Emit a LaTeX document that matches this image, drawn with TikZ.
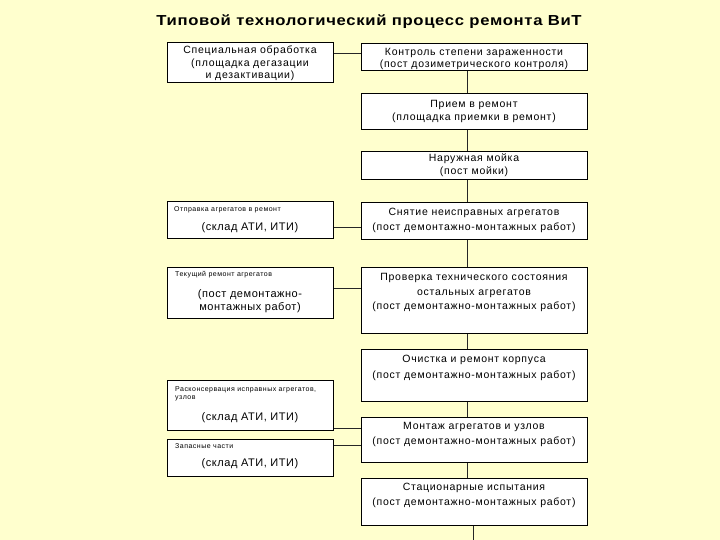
\documentclass[tikz,border=0pt]{standalone}
\usepackage{fontspec}
\usepackage{graphicx}
\setmainfont{Liberation Sans}
\newfontfamily\lsfont[LetterSpace=7]{Liberation Sans}
\newfontfamily\lsbfont[LetterSpace=5]{Liberation Sans}
\newfontfamily\ttlfont[LetterSpace=4]{Liberation Sans}
\definecolor{bgc}{RGB}{255,255,206}
\begin{document}
\begin{tikzpicture}[x=1pt,y=-1pt,
  box/.style={draw=black, fill=white, line width=0.9pt, inner sep=0pt, anchor=north west},
  txt/.style={font=\lsfont\fontsize{10.5}{#1}\selectfont, align=center, inner sep=0pt},
  txt/.default=12.5,
  big/.style={font=\lsbfont\fontsize{11}{13}\selectfont, align=center, inner sep=0pt},
  small/.style={font=\lsfont\fontsize{7}{8}\selectfont, align=left, inner sep=0pt, anchor=west},
  link/.style={draw=black!85, line width=0.9pt}]
\fill[bgc] (0,0) rectangle (720,540);
\useasboundingbox (0,0) rectangle (720,540);
\node[font=\ttlfont\fontsize{14.5}{17}\selectfont\bfseries, inner sep=0pt] (title) at (369,22) {\scalebox{1.15}[1]{Типовой технологический процесс ремонта ВиТ}};
% right column
\node[box, minimum width=226pt, minimum height=27pt] (R1) at (361,43) {};
\node[box, minimum width=226pt, minimum height=36pt] (R2) at (361,93) {};
\node[box, minimum width=226pt, minimum height=28pt] (R3) at (361,151) {};
\node[box, minimum width=226pt, minimum height=37pt] (R4) at (361,202) {};
\node[box, minimum width=226pt, minimum height=66pt] (R5) at (361,267) {};
\node[box, minimum width=226pt, minimum height=52pt] (R6) at (361,349) {};
\node[box, minimum width=226pt, minimum height=45pt] (R7) at (361,417) {};
\node[box, minimum width=226pt, minimum height=47pt] (R8) at (361,478) {};
% left column
\node[box, minimum width=166pt, minimum height=40pt] (L1) at (167,42) {};
\node[box, minimum width=166pt, minimum height=37pt] (L2) at (167,201) {};
\node[box, minimum width=166pt, minimum height=51pt] (L3) at (167,267) {};
\node[box, minimum width=166pt, minimum height=50pt] (L4) at (167,380) {};
\node[box, minimum width=166pt, minimum height=37pt] (L5) at (167,439) {};
% texts right
\node[txt=12] (tR1) at (474,59) {Контроль степени зараженности\\(пост дозиметрического контроля)};
\node[txt=13] (tR2) at (474,111.5) {Прием в ремонт\\(площадка приемки в ремонт)};
\node[txt=13] (tR3) at (474,165.5) {Наружная мойка\\(пост мойки)};
\node[txt=15] (tR4) at (474,220.5) {Снятие неисправных агрегатов\\(пост демонтажно-монтажных работ)};
\node[txt=14.5] (tR5) at (474,292.5) {Проверка технического состояния\\остальных агрегатов\\(пост демонтажно-монтажных работ)};
\node[txt=16] (tR6) at (474,368) {Очистка и ремонт корпуса\\(пост демонтажно-монтажных работ)};
\node[txt=15] (tR7) at (474,434.5) {Монтаж агрегатов и узлов\\(пост демонтажно-монтажных работ)};
\node[txt=15] (tR8) at (474,495.5) {Стационарные испытания\\(пост демонтажно-монтажных работ)};
% texts left
\node[txt=12.5] (tL1) at (250,63.5) {Специальная обработка\\(площадка дегазации\\и дезактивации)};
\node[small] (sL2) at (174,210) {Отправка агрегатов в ремонт};
\node[big] (bL2) at (250,228) {(склад АТИ, ИТИ)};
\node[small] (sL3) at (175,275) {Текущий ремонт агрегатов};
\node[big] (bL3) at (250,301.5) {(пост демонтажно-\\монтажных работ)};
\node[small] (sL4) at (175,394) {Расконсервация исправных агрегатов,\\узлов};
\node[big] (bL4) at (250,418) {(склад АТИ, ИТИ)};
\node[small] (sL5) at (175,446) {Запасные части};
\node[big] (bL5) at (250,464) {(склад АТИ, ИТИ)};
% connectors
\coordinate (vx) at (467,0);
\coordinate (fin) at (473,540);
\draw[link] (R1.south -| vx) -- (R2.north -| vx);
\draw[link] (R2.south -| vx) -- (R3.north -| vx);
\draw[link] (R3.south -| vx) -- (R4.north -| vx);
\draw[link] (R4.south -| vx) -- (R5.north -| vx);
\draw[link] (R5.south -| vx) -- (R6.north -| vx);
\draw[link] (R6.south -| vx) -- (R7.north -| vx);
\draw[link] (R7.south -| vx) -- (R8.north -| vx);
\draw[link] (R8.south -| fin) -- (fin);
\draw[link] (L1.east |- 0,53) -- (R1.west |- 0,53);
\draw[link] (L2.east |- 0,227) -- (R4.west |- 0,227);
\draw[link] (L3.east |- 0,288) -- (R5.west |- 0,288);
\draw[link] (L4.east |- 0,428) -- (R7.west |- 0,428);
\draw[link] (L5.east |- 0,445) -- (R7.west |- 0,445);
\end{tikzpicture}
\end{document}
